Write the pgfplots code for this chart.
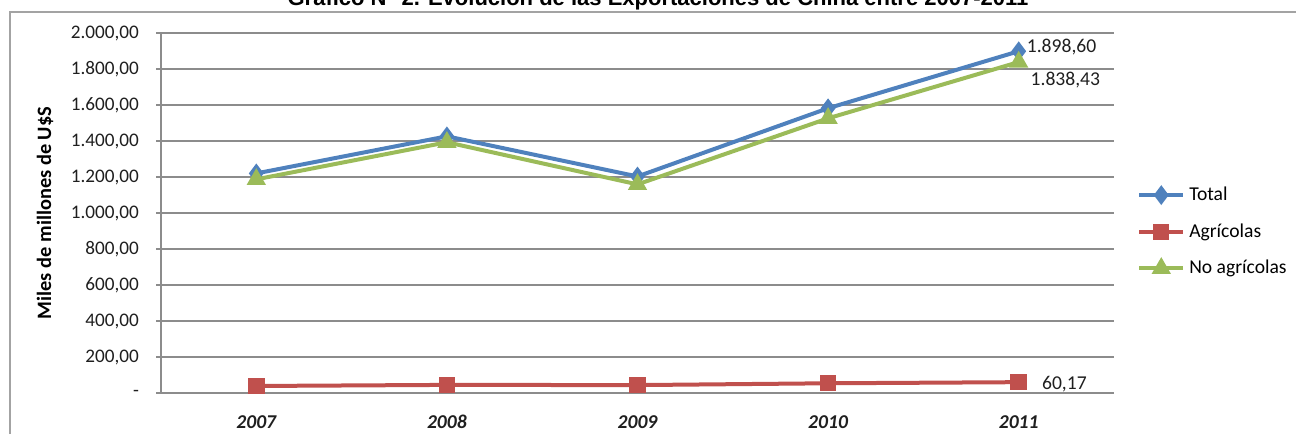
\documentclass[border=0pt]{standalone}
\usepackage{pgfplots}
\pgfplotsset{compat=1.18}
\usepackage{fontspec}
\setmainfont{Carlito}
\newfontfamily\arial{Liberation Sans}
\definecolor{cblue}{HTML}{4F81BD}
\definecolor{cred}{HTML}{C0504D}
\definecolor{cgreen}{HTML}{9BBB59}
\definecolor{cgrid}{HTML}{8C8C8C}
\definecolor{ctick}{HTML}{1F1F1F}
\begin{document}
\begin{tikzpicture}
\clip (0,0) rectangle (648pt,217pt);
\draw[cgrid!80, line width=0.9pt] (5pt,0) -- (5pt,211pt) -- (648pt,211pt);
\node[font=\arial\bfseries\fontsize{11}{13}\selectfont, anchor=base] at (329pt,214pt) {Gráfico N° 2. Evolución de las Exportaciones de China entre 2007-2011};
\node[rotate=90, font=\bfseries\fontsize{10.2}{12}\selectfont] at (22.5pt,110.5pt) {Miles de millones de U\$S};
\begin{axis}[
  at={(80.5pt,20.5pt)}, anchor=south west,
  scale only axis, width=476.5pt, height=180pt,
  xmin=-0.5, xmax=4.5, ymin=0, ymax=2000,
  xtick={0,1,2,3,4},
  xticklabels={2007,2008,2009,2010,2011},
  ytick={0,200,400,600,800,1000,1200,1400,1600,1800,2000},
  yticklabels={{-},{200,00},{400,00},{600,00},{800,00},{1.000,00},{1.200,00},{1.400,00},{1.600,00},{1.800,00},{2.000,00}},
  axis x line*=bottom, axis y line*=left,
  axis line style={-, draw=cgrid, line width=0.8pt},
  ymajorgrids, grid style={draw=cgrid, line width=0.7pt},
  tick align=outside, major tick length=2.5pt,
  ytick style={draw=cgrid, line width=0.7pt},
  xtick style={draw=none},
  yticklabel style={font=\fontsize{9.6}{11}\selectfont, text=ctick, xshift=-5pt},
  xticklabel style={font=\bfseries\itshape\fontsize{9.8}{11}\selectfont, text=ctick, yshift=-4.5pt, text height=7pt, text depth=0pt},
  clip=false,
  legend style={at={(1.024,0.585)}, anchor=north west, draw=none, fill=none,
    font=\fontsize{9.8}{11}\selectfont, row sep=6pt, inner sep=0pt},
  legend cell align=left,
  legend image code/.code={
    \draw[#1, line width=2pt] (0pt,0pt) -- (22pt,0pt);
    \draw[#1, line width=2pt] plot coordinates {(11pt,0pt)};
  },
]
\addplot[cblue, line width=2pt, mark=diamond*, mark size=3.3pt, mark options={solid}] coordinates {(0,1220) (1,1426) (2,1203) (3,1582) (4,1898.60)};
\addlegendentry{Total}
\addplot[cred, line width=2pt, mark=square*, mark size=3.1pt] coordinates {(0,39) (1,45) (2,44) (3,54) (4,60.17)};
\addlegendentry{Agrícolas}
\addplot[cgreen, line width=2pt, mark=triangle*, mark size=3.6pt] coordinates {(0,1187) (1,1393) (2,1159) (3,1526) (4,1838.43)};
\addlegendentry{No agrícolas}
\node[anchor=west, font=\fontsize{9.8}{11}\selectfont, text=ctick, inner sep=1pt] at (axis cs:4.03,1923) {1.898,60};
\node[anchor=west, font=\fontsize{9.8}{11}\selectfont, text=ctick, inner sep=1pt] at (axis cs:4.05,1740) {1.838,43};
\node[anchor=west, font=\fontsize{9.8}{11}\selectfont, text=ctick, inner sep=1pt] at (axis cs:4.11,50) {60,17};
\end{axis}
\end{tikzpicture}
\end{document}
